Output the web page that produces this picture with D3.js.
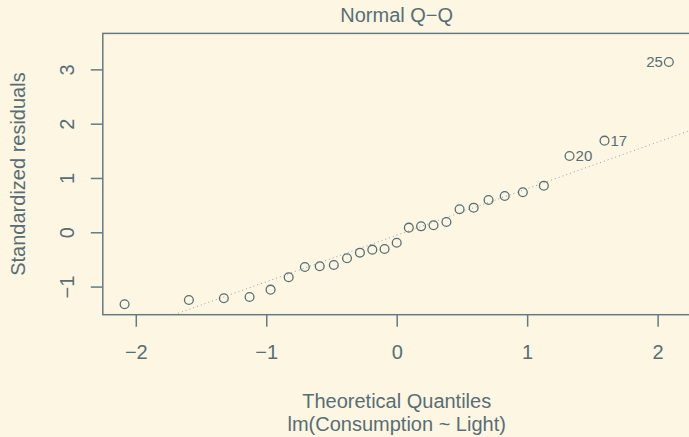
<!DOCTYPE html>
<html>
<head>
<meta charset="utf-8">
<script src="https://cdn.jsdelivr.net/npm/d3@7"></script>
<style>
  body { margin: 0; background: #fdf6e3; }
  svg { display: block; }
  text { font-family: "Liberation Sans", Arial, Helvetica, sans-serif; fill: #586e75; }
</style>
</head>
<body>
<svg width="689" height="437"></svg>
<script>
// theoretical quantiles (n = 27)
var theoQ = [-2.086, -1.593, -1.325, -1.128, -0.967, -0.828, -0.704, -0.590, -0.482,
             -0.381, -0.282, -0.187, -0.093, 0, 0.093, 0.187, 0.282, 0.381, 0.482,
             0.590, 0.704, 0.828, 0.967, 1.128, 1.325, 1.593, 2.086];
// standardized residuals, sorted
var stdRes = [-1.326, -1.247, -1.215, -1.192, -1.057, -0.829, -0.639, -0.626, -0.602,
              -0.479, -0.376, -0.320, -0.308, -0.192, 0.085, 0.110, 0.129, 0.190, 0.424,
              0.453, 0.595, 0.668, 0.737, 0.858, 1.405, 1.687, 3.136];
// observation ids for the labelled points
var idLabels = [null, null, null, null, null, null, null, null, null, null, null, null, null,
                null, null, null, null, null, null, null, null, null, null, null, "20", "17", "25"];
var xTicks = [-2, -1, 0, 1, 2];
var yTicks = [-1, 0, 1, 2, 3];

var svg = d3.select("svg");
var pLeft = 102.8, pRight = 690.6, pTop = 33.4, pBottom = 314.7;

// R style ranges: 7.5% headroom for labels, then 4% padding
var xr = d3.extent(theoQ);
var yr = d3.extent(stdRes);
yr[1] = yr[1] + (yr[1] - yr[0]) * 0.075;
var xp = (xr[1] - xr[0]) * 0.04, yp = (yr[1] - yr[0]) * 0.04;

var x = d3.scaleLinear().domain([xr[0] - xp, xr[1] + xp]).range([pLeft, pRight]);
var y = d3.scaleLinear().domain([yr[0] - yp, yr[1] + yp]).range([pBottom, pTop]);

svg.append("defs").append("clipPath").attr("id", "clip")
  .append("rect").attr("x", pLeft).attr("y", pTop)
  .attr("width", pRight - pLeft).attr("height", pBottom - pTop);

var lineCol = "#657b83";

// qq line through the quartiles
var q1 = d3.quantile(stdRes, 0.25), q3 = d3.quantile(stdRes, 0.75);
var slope = (q3 - q1) / (2 * 0.6744898);
var icpt = q1 + slope * 0.6744898;
var xd = x.domain();
svg.append("line")
  .attr("clip-path", "url(#clip)")
  .attr("x1", x(xd[0])).attr("y1", y(icpt + slope * xd[0]))
  .attr("x2", x(xd[1])).attr("y2", y(icpt + slope * xd[1]))
  .attr("stroke", "#93a1a1").attr("stroke-width", 1)
  .attr("stroke-dasharray", "1,3");

// box
svg.append("rect")
  .attr("x", pLeft).attr("y", pTop)
  .attr("width", pRight - pLeft).attr("height", pBottom - pTop)
  .attr("fill", "none").attr("stroke", lineCol).attr("stroke-width", 1.5);

// x axis
var xa = svg.append("g").attr("transform", "translate(0," + pBottom + ")")
  .call(d3.axisBottom(x).tickValues(xTicks).tickSize(12).tickFormat(function(d) {
    return d < 0 ? "\u2212" + Math.abs(d) : d;
  }));
xa.select(".domain").remove();
xa.selectAll("line").attr("stroke", lineCol).attr("stroke-width", 1.5);
xa.selectAll("text").attr("font-size", 20).attr("fill", "#586e75")
  .attr("font-family", "Liberation Sans, Arial, sans-serif")
  .attr("y", 44.5).attr("dy", null);

// y axis
var ya = svg.append("g").attr("transform", "translate(" + pLeft + ",0)")
  .call(d3.axisLeft(y).tickValues(yTicks).tickSize(12).tickFormat(function(d) {
    return d < 0 ? "\u2212" + Math.abs(d) : d;
  }));
ya.select(".domain").remove();
ya.selectAll("line").attr("stroke", lineCol).attr("stroke-width", 1.5);
ya.selectAll("text").attr("font-size", 20).attr("fill", "#586e75")
  .attr("font-family", "Liberation Sans, Arial, sans-serif")
  .attr("x", null).attr("dy", null)
  .attr("text-anchor", "middle")
  .attr("transform", "translate(-29.3,0) rotate(-90)");

// points
svg.append("g").selectAll("circle")
  .data(theoQ)
  .enter()
  .append("circle")
  .attr("cx", function(d) { return x(d); })
  .attr("cy", function(d, i) { return y(stdRes[i]); })
  .attr("r", 4.4)
  .attr("fill", "none")
  .attr("stroke", "#586e75")
  .attr("stroke-width", 1.3);

// id labels, to the left if beyond the middle of the labelled range
var labelled = theoQ.map(function(d, i) { return {x: d, y: stdRes[i], id: idLabels[i]}; })
  .filter(function(d) { return d.id; });
var midX = d3.mean(d3.extent(labelled, function(d) { return d.x; }));
svg.append("g").selectAll("text")
  .data(labelled)
  .enter()
  .append("text")
  .attr("x", function(d) { return d.x > midX ? x(d.x) - 6 : x(d.x) + 6; })
  .attr("y", function(d) { return y(d.y) + 5.3; })
  .attr("text-anchor", function(d) { return d.x > midX ? "end" : "start"; })
  .attr("font-size", 15)
  .text(function(d) { return d.id; });

// titles
var cx = (pLeft + pRight) / 2;
svg.append("text").attr("x", cx).attr("y", 22).attr("text-anchor", "middle")
  .attr("font-size", 20).text("Normal Q\u2212Q");
svg.append("text").attr("x", cx).attr("y", 408).attr("text-anchor", "middle")
  .attr("font-size", 20).text("Theoretical Quantiles");
svg.append("text").attr("x", cx).attr("y", 431).attr("text-anchor", "middle")
  .attr("font-size", 20).text("lm(Consumption ~ Light)");
svg.append("text").attr("text-anchor", "middle").attr("font-size", 20)
  .attr("transform", "translate(24.5," + ((pTop + pBottom) / 2) + ") rotate(-90)")
  .text("Standardized residuals");
</script>
</body>
</html>
